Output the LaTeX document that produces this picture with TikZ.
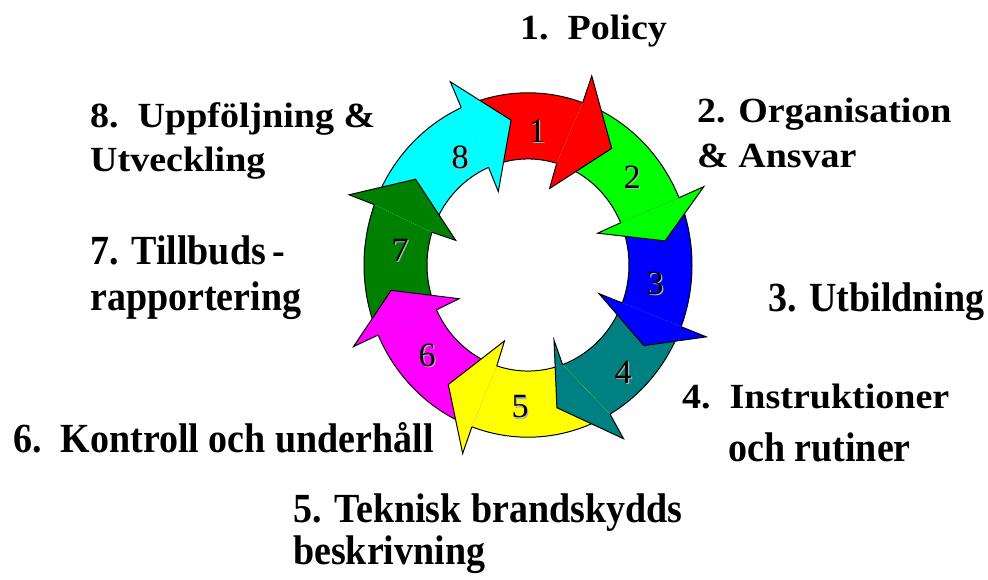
\documentclass[tikz,border=0pt]{standalone}
\usepackage{fontspec}
\usepackage{graphicx}
\setmainfont{Liberation Serif}
\definecolor{c1}{RGB}{255,0,0}
\definecolor{c2}{RGB}{0,255,0}
\definecolor{c3}{RGB}{0,0,255}
\definecolor{c4}{RGB}{0,128,128}
\definecolor{c5}{RGB}{255,255,0}
\definecolor{c6}{RGB}{255,0,255}
\definecolor{c7}{RGB}{0,128,0}
\definecolor{c8}{RGB}{0,255,255}
\newcommand{\tallt}[1]{\scalebox{1}[1.09]{#1}}
\newcommand{\shortt}[1]{\scalebox{1}[0.93]{#1}}
\tikzset{
  ringline/.style={draw=black, line width=1pt},
  lbl/.style={font=\bfseries\fontsize{38}{44}\selectfont, anchor=base west, inner sep=0pt},
  num/.style={font=\fontsize{34}{40}\selectfont, anchor=center, inner sep=0pt, text=black},
  numshadow/.style={font=\fontsize{34}{40}\selectfont, anchor=center, inner sep=0pt, text=black!30}
}
\begin{document}
\begin{tikzpicture}[x=1pt,y=1pt]
\useasboundingbox (0,0) rectangle (988,579);
\begin{scope}[shift={(528,314)}, yscale=1.05]
  % bands: outer end, inner end, tip, outer tail, inner tail, colour
  \foreach \o/\i/\t/\po/\pi/\c in {
      70.5/73.5/53/114/113/c1,
      23/23.5/9.5/70.5/73.5/c2,
      -21/-21/-33.5/23/23.5/c3,
      -60/-70/-78/-21/-21/c4,
      -110/-108/-125/-60/-70/c5,
      -156/-155/-170/-110/-108/c6,
      -200.5/-198/-216/-156/-155/c7,
      -246/-247/-263/-200.5/-198/c8} {
    \fill[\c] (\i:101pt) -- (\o:164pt)
      arc[start angle=\o, end angle=\po, radius=164pt]
      -- (\pi:101pt)
      arc[start angle=\pi, end angle=\i, radius=101pt] -- cycle;
    \draw[ringline] (\o:164pt) arc[start angle=\o, end angle=\po, radius=164pt];
    \draw[ringline] (\i:101pt) arc[start angle=\i, end angle=\pi, radius=101pt];
  }
  % heads
  \foreach \o/\i/\t/\c in {
      70.5/73.5/53/c1,
      23/23.5/9.5/c2,
      -21/-21/-33.5/c3,
      -60/-70/-78/c4,
      -110/-108/-125/c5,
      -156/-155/-170/c6,
      -200.5/-198/-216/c7,
      -246/-247/-263/c8} {
    \fill[\c] (\o:191pt) -- (\t:139pt) -- (\i:76pt) -- (\i:101pt) -- (\o:164pt) -- cycle;
    \draw[ringline] (\o:164pt) -- (\o:191pt) -- (\t:139pt) -- (\i:76pt) -- (\i:101pt);
  }
\end{scope}
% numbers
\foreach \n/\x/\y in {1/537/448,2/632/402,3/655/296,4/623/207,5/520/172,6/427/224,7/400/329,8/460/422} {
  \node[numshadow] (n\n s) at (\x+1.3,\y-1.3) {\n};
  \node[num] (n\n) at (\x,\y) {\n};
}
% labels
\node[lbl] (l1)  at (520,539) {\shortt{1.~~Policy}};
\node[lbl] (l2a) at (697,456) {\shortt{2. Organisation}};
\node[lbl] (l2b) at (697,411) {\shortt{\& Ansvar}};
\node[lbl] (l3)  at (768,267) {\tallt{3. Utbildning}};
\node[lbl] (l4a) at (682,171) {\shortt{4.~~Instruktioner}};
\node[lbl] (l4b) at (728,118) {\tallt{och rutiner}};
\node[lbl] (l5a) at (293,57)  {\tallt{5. Teknisk brandskydds}};
\node[lbl] (l5b) at (293,15)  {\tallt{beskrivning}};
\node[lbl] (l6)  at (13,127)  {\tallt{6.~~Kontroll och underhåll}};
\node[lbl] (l7a) at (90,314)  {\tallt{7. Tillbuds\,-}};
\node[lbl] (l7b) at (90,269)  {\tallt{rapportering}};
\node[lbl] (l8a) at (90,451)  {\shortt{8.~~Uppföljning \&}};
\node[lbl] (l8b) at (90,407)  {\shortt{Utveckling}};
\end{tikzpicture}
\end{document}
